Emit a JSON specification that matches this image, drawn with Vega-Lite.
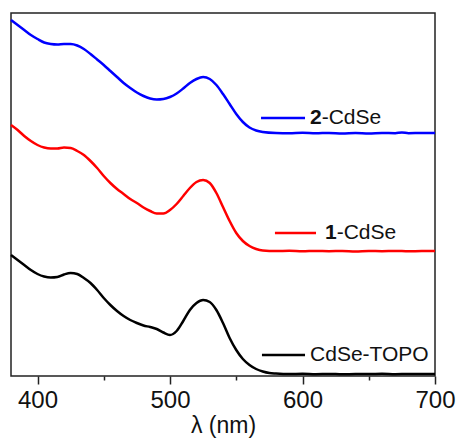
{
  "$schema": "https://vega.github.io/schema/vega-lite/v6.json",
  "width": 424,
  "height": 363,
  "autosize": {"type": "none"},
  "padding": {"left": 11, "top": 13, "right": 23, "bottom": 64},
  "config": {
    "view": {"stroke": "#222222", "strokeWidth": 1.5},
    "font": "Liberation Sans"
  },
  "datasets": {
    "spectra": [
      {"s": "2-CdSe", "x": 380, "y": 3.56}, {"s": "2-CdSe", "x": 385, "y": 3.51}, {"s": "2-CdSe", "x": 390, "y": 3.46}, {"s": "2-CdSe", "x": 395, "y": 3.41}, {"s": "2-CdSe", "x": 400, "y": 3.37}, {"s": "2-CdSe", "x": 405, "y": 3.335}, {"s": "2-CdSe", "x": 410, "y": 3.32}, {"s": "2-CdSe", "x": 415, "y": 3.315}, {"s": "2-CdSe", "x": 420, "y": 3.32}, {"s": "2-CdSe", "x": 425, "y": 3.32}, {"s": "2-CdSe", "x": 430, "y": 3.305}, {"s": "2-CdSe", "x": 435, "y": 3.27}, {"s": "2-CdSe", "x": 440, "y": 3.22}, {"s": "2-CdSe", "x": 445, "y": 3.165}, {"s": "2-CdSe", "x": 450, "y": 3.11}, {"s": "2-CdSe", "x": 455, "y": 3.05}, {"s": "2-CdSe", "x": 460, "y": 2.99}, {"s": "2-CdSe", "x": 465, "y": 2.93}, {"s": "2-CdSe", "x": 470, "y": 2.88}, {"s": "2-CdSe", "x": 475, "y": 2.835}, {"s": "2-CdSe", "x": 480, "y": 2.8}, {"s": "2-CdSe", "x": 485, "y": 2.775}, {"s": "2-CdSe", "x": 490, "y": 2.765}, {"s": "2-CdSe", "x": 495, "y": 2.77}, {"s": "2-CdSe", "x": 500, "y": 2.79}, {"s": "2-CdSe", "x": 505, "y": 2.825}, {"s": "2-CdSe", "x": 510, "y": 2.875}, {"s": "2-CdSe", "x": 515, "y": 2.93}, {"s": "2-CdSe", "x": 520, "y": 2.97}, {"s": "2-CdSe", "x": 525, "y": 2.99}, {"s": "2-CdSe", "x": 530, "y": 2.97}, {"s": "2-CdSe", "x": 535, "y": 2.91}, {"s": "2-CdSe", "x": 540, "y": 2.82}, {"s": "2-CdSe", "x": 545, "y": 2.72}, {"s": "2-CdSe", "x": 550, "y": 2.62}, {"s": "2-CdSe", "x": 555, "y": 2.54}, {"s": "2-CdSe", "x": 560, "y": 2.485}, {"s": "2-CdSe", "x": 565, "y": 2.455}, {"s": "2-CdSe", "x": 570, "y": 2.44}, {"s": "2-CdSe", "x": 580, "y": 2.43}, {"s": "2-CdSe", "x": 590, "y": 2.428}, {"s": "2-CdSe", "x": 600, "y": 2.432}, {"s": "2-CdSe", "x": 610, "y": 2.427}, {"s": "2-CdSe", "x": 620, "y": 2.431}, {"s": "2-CdSe", "x": 630, "y": 2.426}, {"s": "2-CdSe", "x": 640, "y": 2.43}, {"s": "2-CdSe", "x": 650, "y": 2.425}, {"s": "2-CdSe", "x": 660, "y": 2.43}, {"s": "2-CdSe", "x": 670, "y": 2.428}, {"s": "2-CdSe", "x": 675, "y": 2.435}, {"s": "2-CdSe", "x": 680, "y": 2.428}, {"s": "2-CdSe", "x": 690, "y": 2.43}, {"s": "2-CdSe", "x": 700, "y": 2.43},
      {"s": "1-CdSe", "x": 380, "y": 2.51}, {"s": "1-CdSe", "x": 385, "y": 2.46}, {"s": "1-CdSe", "x": 390, "y": 2.4}, {"s": "1-CdSe", "x": 395, "y": 2.35}, {"s": "1-CdSe", "x": 400, "y": 2.31}, {"s": "1-CdSe", "x": 405, "y": 2.285}, {"s": "1-CdSe", "x": 410, "y": 2.275}, {"s": "1-CdSe", "x": 415, "y": 2.275}, {"s": "1-CdSe", "x": 420, "y": 2.285}, {"s": "1-CdSe", "x": 425, "y": 2.28}, {"s": "1-CdSe", "x": 430, "y": 2.25}, {"s": "1-CdSe", "x": 435, "y": 2.21}, {"s": "1-CdSe", "x": 440, "y": 2.15}, {"s": "1-CdSe", "x": 445, "y": 2.08}, {"s": "1-CdSe", "x": 450, "y": 2.0}, {"s": "1-CdSe", "x": 455, "y": 1.93}, {"s": "1-CdSe", "x": 460, "y": 1.87}, {"s": "1-CdSe", "x": 465, "y": 1.82}, {"s": "1-CdSe", "x": 470, "y": 1.77}, {"s": "1-CdSe", "x": 475, "y": 1.73}, {"s": "1-CdSe", "x": 480, "y": 1.685}, {"s": "1-CdSe", "x": 485, "y": 1.65}, {"s": "1-CdSe", "x": 490, "y": 1.625}, {"s": "1-CdSe", "x": 495, "y": 1.625}, {"s": "1-CdSe", "x": 500, "y": 1.66}, {"s": "1-CdSe", "x": 505, "y": 1.72}, {"s": "1-CdSe", "x": 510, "y": 1.8}, {"s": "1-CdSe", "x": 515, "y": 1.88}, {"s": "1-CdSe", "x": 520, "y": 1.94}, {"s": "1-CdSe", "x": 525, "y": 1.96}, {"s": "1-CdSe", "x": 530, "y": 1.93}, {"s": "1-CdSe", "x": 535, "y": 1.83}, {"s": "1-CdSe", "x": 540, "y": 1.69}, {"s": "1-CdSe", "x": 545, "y": 1.55}, {"s": "1-CdSe", "x": 550, "y": 1.43}, {"s": "1-CdSe", "x": 555, "y": 1.35}, {"s": "1-CdSe", "x": 560, "y": 1.3}, {"s": "1-CdSe", "x": 565, "y": 1.27}, {"s": "1-CdSe", "x": 570, "y": 1.255}, {"s": "1-CdSe", "x": 580, "y": 1.25}, {"s": "1-CdSe", "x": 590, "y": 1.252}, {"s": "1-CdSe", "x": 600, "y": 1.247}, {"s": "1-CdSe", "x": 610, "y": 1.251}, {"s": "1-CdSe", "x": 620, "y": 1.248}, {"s": "1-CdSe", "x": 630, "y": 1.25}, {"s": "1-CdSe", "x": 640, "y": 1.246}, {"s": "1-CdSe", "x": 650, "y": 1.25}, {"s": "1-CdSe", "x": 660, "y": 1.248}, {"s": "1-CdSe", "x": 670, "y": 1.251}, {"s": "1-CdSe", "x": 680, "y": 1.247}, {"s": "1-CdSe", "x": 690, "y": 1.25}, {"s": "1-CdSe", "x": 700, "y": 1.25},
      {"s": "CdSe-TOPO", "x": 380, "y": 1.21}, {"s": "CdSe-TOPO", "x": 385, "y": 1.16}, {"s": "CdSe-TOPO", "x": 390, "y": 1.11}, {"s": "CdSe-TOPO", "x": 395, "y": 1.06}, {"s": "CdSe-TOPO", "x": 400, "y": 1.02}, {"s": "CdSe-TOPO", "x": 405, "y": 0.995}, {"s": "CdSe-TOPO", "x": 410, "y": 0.985}, {"s": "CdSe-TOPO", "x": 415, "y": 0.99}, {"s": "CdSe-TOPO", "x": 420, "y": 1.015}, {"s": "CdSe-TOPO", "x": 425, "y": 1.03}, {"s": "CdSe-TOPO", "x": 430, "y": 1.02}, {"s": "CdSe-TOPO", "x": 435, "y": 0.98}, {"s": "CdSe-TOPO", "x": 440, "y": 0.93}, {"s": "CdSe-TOPO", "x": 445, "y": 0.86}, {"s": "CdSe-TOPO", "x": 450, "y": 0.78}, {"s": "CdSe-TOPO", "x": 455, "y": 0.71}, {"s": "CdSe-TOPO", "x": 460, "y": 0.65}, {"s": "CdSe-TOPO", "x": 465, "y": 0.6}, {"s": "CdSe-TOPO", "x": 470, "y": 0.56}, {"s": "CdSe-TOPO", "x": 475, "y": 0.53}, {"s": "CdSe-TOPO", "x": 480, "y": 0.505}, {"s": "CdSe-TOPO", "x": 485, "y": 0.49}, {"s": "CdSe-TOPO", "x": 490, "y": 0.47}, {"s": "CdSe-TOPO", "x": 495, "y": 0.435}, {"s": "CdSe-TOPO", "x": 500, "y": 0.41}, {"s": "CdSe-TOPO", "x": 505, "y": 0.45}, {"s": "CdSe-TOPO", "x": 510, "y": 0.55}, {"s": "CdSe-TOPO", "x": 515, "y": 0.66}, {"s": "CdSe-TOPO", "x": 520, "y": 0.73}, {"s": "CdSe-TOPO", "x": 525, "y": 0.76}, {"s": "CdSe-TOPO", "x": 530, "y": 0.74}, {"s": "CdSe-TOPO", "x": 535, "y": 0.66}, {"s": "CdSe-TOPO", "x": 540, "y": 0.53}, {"s": "CdSe-TOPO", "x": 545, "y": 0.38}, {"s": "CdSe-TOPO", "x": 550, "y": 0.26}, {"s": "CdSe-TOPO", "x": 555, "y": 0.17}, {"s": "CdSe-TOPO", "x": 560, "y": 0.11}, {"s": "CdSe-TOPO", "x": 565, "y": 0.07}, {"s": "CdSe-TOPO", "x": 570, "y": 0.045}, {"s": "CdSe-TOPO", "x": 575, "y": 0.03}, {"s": "CdSe-TOPO", "x": 580, "y": 0.025}, {"s": "CdSe-TOPO", "x": 590, "y": 0.02}, {"s": "CdSe-TOPO", "x": 600, "y": 0.022}, {"s": "CdSe-TOPO", "x": 610, "y": 0.018}, {"s": "CdSe-TOPO", "x": 620, "y": 0.021}, {"s": "CdSe-TOPO", "x": 630, "y": 0.017}, {"s": "CdSe-TOPO", "x": 640, "y": 0.02}, {"s": "CdSe-TOPO", "x": 650, "y": 0.019}, {"s": "CdSe-TOPO", "x": 660, "y": 0.022}, {"s": "CdSe-TOPO", "x": 670, "y": 0.018}, {"s": "CdSe-TOPO", "x": 680, "y": 0.02}, {"s": "CdSe-TOPO", "x": 690, "y": 0.019}, {"s": "CdSe-TOPO", "x": 700, "y": 0.02}
    ],
    "labels": [
      {"s": "2-CdSe", "x1": 568.7, "x2": 601.9, "xt": 614.5, "y": 2.58, "num": "2", "rest": "-CdSe"},
      {"s": "1-CdSe", "x1": 579.2, "x2": 610.2, "xt": 625.8, "y": 1.43, "num": "1", "rest": "-CdSe"},
      {"s": "CdSe-TOPO", "x1": 569.4, "x2": 601.9, "xt": 605.7, "y": 0.21, "num": "", "rest": "CdSe-TOPO"}
    ]
  },
  "layer": [
    {
      "data": {"name": "spectra"},
      "mark": {"type": "line", "strokeWidth": 2.5, "interpolate": "monotone"},
      "encoding": {
        "x": {
          "field": "x", "type": "quantitative",
          "scale": {"domain": [380, 700], "nice": false, "zero": false},
          "axis": {
            "title": "λ (nm)",
            "values": [400, 450, 500, 550, 600, 650, 700],
            "labelExpr": "datum.value % 100 === 0 ? datum.label : ''",
            "grid": false,
            "domain": false,
            "tickColor": "#222222",
            "tickWidth": 1.5,
            "tickSize": {"condition": {"test": "datum.value % 100 === 0", "value": 8}, "value": 4},
            "labelFontSize": 24,
            "labelColor": "#111111",
            "labelPadding": 4,
            "labelFlush": false,
            "titleFontSize": 23,
            "titleFontWeight": "normal",
            "titleColor": "#111111",
            "titlePadding": 2
          }
        },
        "y": {
          "field": "y", "type": "quantitative",
          "scale": {"domain": [0, 3.63], "nice": false, "zero": false},
          "axis": null
        },
        "color": {
          "field": "s", "type": "nominal",
          "scale": {"domain": ["2-CdSe", "1-CdSe", "CdSe-TOPO"], "range": ["#0000ff", "#ff0000", "#000000"]},
          "legend": null
        },
        "detail": {"field": "s"}
      }
    },
    {
      "data": {"name": "labels"},
      "mark": {"type": "rule", "strokeWidth": 2.5},
      "encoding": {
        "x": {"field": "x1", "type": "quantitative"},
        "x2": {"field": "x2"},
        "y": {"field": "y", "type": "quantitative"},
        "color": {"field": "s", "type": "nominal", "legend": null}
      }
    },
    {
      "data": {"name": "labels"},
      "mark": {"type": "text", "align": "right", "baseline": "middle", "fontSize": 21, "fontWeight": "bold", "color": "#111111"},
      "encoding": {
        "x": {"field": "xt", "type": "quantitative"},
        "y": {"field": "y", "type": "quantitative"},
        "text": {"field": "num"}
      }
    },
    {
      "data": {"name": "labels"},
      "mark": {"type": "text", "align": "left", "baseline": "middle", "fontSize": 21, "color": "#111111"},
      "encoding": {
        "x": {"field": "xt", "type": "quantitative"},
        "y": {"field": "y", "type": "quantitative"},
        "text": {"field": "rest"}
      }
    }
  ]
}
